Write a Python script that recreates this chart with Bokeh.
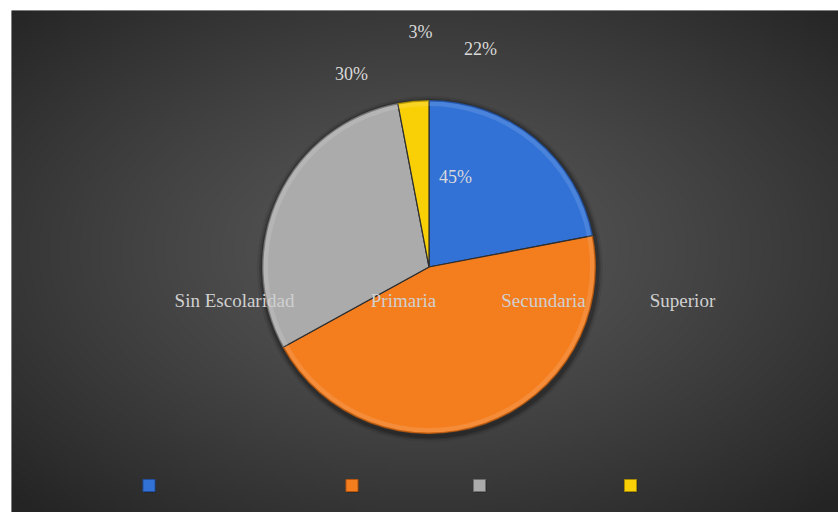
import numpy as np
from bokeh.plotting import figure
from bokeh.models import Range1d, ColumnDataSource
from bokeh.core.properties import value
from bokeh.embed import file_html
from bokeh.resources import INLINE

# ---- data ----
categories = ["Sin Escolaridad", "Primaria", "Secundaria", "Superior"]
values = [22, 45, 30, 3]
pct_labels = ["22%", "45%", "30%", "3%"]
colors = ["#3272d6", "#f47d1e", "#ababab", "#f9cf05"]
edge_colors = ["#1f4f9e", "#b5560c", "#6e6e6e", "#a88a00"]

# ---- layout (frame pixel coordinates, origin bottom-left) ----
FW, FH = 827, 502
cx, cy, R = 417.5, 245.5, 167
pct_x = [469, 444, 340, 409]
pct_y = [464, 336, 439, 481]
cat_x = [223, 392, 532, 671]
cat_y = [212, 212, 212, 212]
leg_x = [137.5, 340.5, 468, 619]
leg_y = [27, 27, 27, 27]

p = figure(width=838, height=512, output_backend="svg", toolbar_location=None,
           x_range=Range1d(0, FW), y_range=Range1d(0, FH),
           min_border_left=11, min_border_top=10, min_border_right=0, min_border_bottom=0)
p.axis.visible = False
p.grid.visible = False
p.outline_line_color = None
p.border_fill_color = "white"
p.background_fill_color = "#3a3a3a"

# radial gradient background
h, w = 251, 414
yy, xx = np.mgrid[0:h, 0:w]
dx = (xx - w * 0.5) / (w * 0.5)
dy = (yy - h * 0.52) / (h * 0.5)
d = np.clip(np.sqrt(dx ** 2 + dy ** 2) / np.sqrt(2), 0, 1)
g = (0x58 - (0x58 - 0x24) * d ** 1.25).astype(np.uint32)
img = (255 << 24) | (g << 16) | (g << 8) | g
p.image_rgba(image=[img.astype(np.uint32)], x=0, y=0, dw=FW, dh=FH)

# pie
fr = np.array(values, dtype=float) / sum(values)
cum = np.concatenate([[0], np.cumsum(fr)])
start = np.pi / 2 - cum[:-1] * 2 * np.pi
end = np.pi / 2 - cum[1:] * 2 * np.pi
src = ColumnDataSource(dict(start=start, end=end, color=colors, edge=edge_colors,
                            cat=categories))

# soft shadow
for k, a in [(6, 0.08), (4, 0.12), (2.5, 0.18)]:
    p.circle(x=cx + 1, y=cy - 2, radius=R + k, fill_color="black", fill_alpha=a, line_color=None)

p.wedge(x=cx, y=cy, radius=R, start_angle="start", end_angle="end", direction="clock",
        fill_color="color", line_color="#2e2e2e", line_width=1.2, source=src)
# bevel highlight / shade
p.annular_wedge(x=cx, y=cy, inner_radius=R - 6, outer_radius=R - 1, start_angle="start",
                end_angle="end", direction="clock", fill_color="white", fill_alpha=0.12,
                line_color=None, source=src)
p.annular_wedge(x=cx, y=cy, inner_radius=R - 1.5, outer_radius=R, start_angle="start",
                end_angle="end", direction="clock", fill_color="edge", fill_alpha=0.8,
                line_color=None, source=src)

# percentage labels
p.text(x=pct_x, y=pct_y, text=pct_labels, text_font=value("Liberation Serif"),
       text_font_size="18px", text_color="#d9d9d9", text_align="center",
       text_baseline="middle")

# category labels
p.text(x=cat_x, y=cat_y, text=categories, text_font=value("Liberation Serif"),
       text_font_size="19px", text_color="#d0d0d0", text_align="center",
       text_baseline="middle")

# legend keys
p.scatter(x=[v + 1 for v in leg_x], y=[v - 1 for v in leg_y], marker="square", size=12,
          fill_color="#1a1a1a", fill_alpha=0.6, line_color=None)
p.scatter(x=leg_x, y=leg_y, marker="square", size=12, fill_color=colors,
          line_color=edge_colors, line_width=1)

open("out.html", "w").write(file_html(p, INLINE))
